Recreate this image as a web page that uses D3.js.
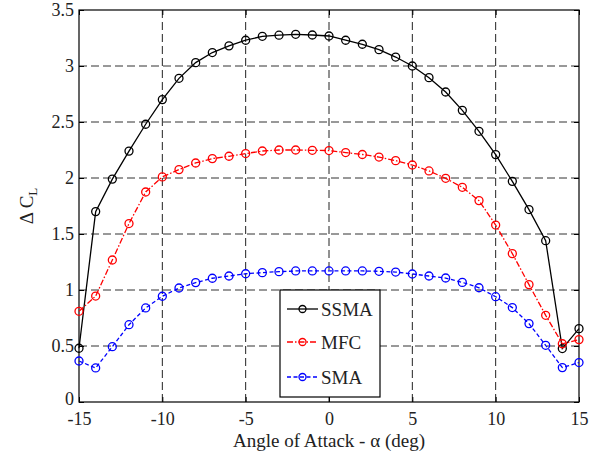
<!DOCTYPE html>
<html>
<head>
<meta charset="utf-8">
<script src="https://cdn.jsdelivr.net/npm/d3@7"></script>
<style>
body{margin:0;background:#fff;}
text{font-family:"Liberation Serif","DejaVu Serif",serif;}
</style>
</head>
<body>
<svg id="chart" width="594" height="451"></svg>
<script>
// angle of attack (deg)
var alpha = d3.range(-15, 16)
var xTicks = [-15, -10, -5, 0, 5, 10, 15]
var yTicks = [0, 0.5, 1, 1.5, 2, 2.5, 3, 3.5]
var yTickLabels = ['0', '0.5', '1', '1.5', '2', '2.5', '3', '3.5']

var ssma = [0.48, 1.70, 1.99, 2.24, 2.48, 2.70, 2.89, 3.03, 3.12, 3.18, 3.23, 3.265, 3.275, 3.283, 3.277, 3.268,
            3.23, 3.194, 3.146, 3.08, 3.00, 2.896, 2.768, 2.604, 2.417, 2.209, 1.97, 1.718, 1.44, 0.477, 0.655]
var mfc = [0.81, 0.946, 1.268, 1.593, 1.875, 2.01, 2.075, 2.134, 2.173, 2.194, 2.218, 2.241, 2.25, 2.25, 2.247, 2.245,
           2.227, 2.21, 2.187, 2.155, 2.116, 2.063, 1.997, 1.917, 1.798, 1.58, 1.325, 1.048, 0.774, 0.52, 0.557]
var sma = [0.366, 0.304, 0.494, 0.69, 0.84, 0.944, 1.018, 1.066, 1.105, 1.125, 1.145, 1.155, 1.164, 1.17, 1.17, 1.17,
           1.17, 1.17, 1.167, 1.16, 1.143, 1.125, 1.107, 1.068, 1.02, 0.94, 0.843, 0.70, 0.506, 0.307, 0.352]

var seriesNames = ['SSMA', 'MFC', 'SMA']
var seriesColors = ['#000000', '#ff0000', '#0000ff']
var seriesDash = [null, '6,2,1.5,2', '4,2.5']

var svg = d3.select('#chart')
var margin = {left: 79, right: 15, top: 10, bottom: 49}
var w = 594 - margin.left - margin.right
var h = 451 - margin.top - margin.bottom

var x = d3.scaleLinear().domain([-15, 15]).range([margin.left, margin.left + w])
var y = d3.scaleLinear().domain([0, 3.5]).range([margin.top + h, margin.top])

var fontSize = 18
var g = svg.append('g')

// grid
g.selectAll('.vgrid')
    .data(xTicks.slice(1, -1))
    .join('line')
    .attr('x1', d => x(d)).attr('x2', d => x(d))
    .attr('y1', y(0)).attr('y2', y(3.5))
    .attr('stroke', '#222').attr('stroke-width', 1)
    .attr('stroke-dasharray', '8,4')
g.selectAll('.hgrid')
    .data(yTicks.slice(1, -1))
    .join('line')
    .attr('x1', x(-15)).attr('x2', x(15))
    .attr('y1', d => y(d)).attr('y2', d => y(d))
    .attr('stroke', '#333').attr('stroke-width', 1)
    .attr('stroke-dasharray', '8,4')

// axes, ticks inward on all four sides
var tickLen = 5
var axB = d3.axisBottom(x).tickValues(xTicks).tickSize(-tickLen).tickPadding(10.5).tickFormat(d => String(d))
var axT = d3.axisTop(x).tickValues(xTicks).tickSize(-tickLen).tickFormat('')
var axL = d3.axisLeft(y).tickValues(yTicks).tickSize(-tickLen).tickPadding(5).tickFormat((d, i) => yTickLabels[i])
var axR = d3.axisRight(y).tickValues(yTicks).tickSize(-tickLen).tickFormat('')

function styleAxis(sel){
    sel.select('.domain').remove()
    sel.selectAll('line').attr('stroke', '#000')
    sel.selectAll('text').attr('font-size', fontSize).attr('fill', '#222')
        .attr('font-family', '"Liberation Serif","DejaVu Serif",serif')
}
g.append('g').attr('transform', `translate(0,${y(0)})`).call(axB).call(styleAxis)
g.append('g').attr('transform', `translate(0,${y(3.5)})`).call(axT).call(styleAxis)
var yAxisG = g.append('g').attr('transform', `translate(${x(-15)},0)`).call(axL).call(styleAxis)
// lift the "0" label a touch so it clears the "-15" below it
yAxisG.selectAll('.tick text').filter(d => d === 0).attr('dy', '0.12em')
g.append('g').attr('transform', `translate(${x(15)},0)`).call(axR).call(styleAxis)

g.append('rect')
    .attr('x', x(-15)).attr('y', y(3.5))
    .attr('width', x(15) - x(-15)).attr('height', y(0) - y(3.5))
    .attr('fill', 'none').attr('stroke', '#000').attr('stroke-width', 1.2)

// series
var allSeries = [ssma, mfc, sma]
var line = d3.line().x((d, i) => x(alpha[i])).y(d => y(d))

allSeries.forEach((vals, k) => {
    g.append('path')
        .datum(vals)
        .attr('d', line)
        .attr('fill', 'none')
        .attr('stroke', seriesColors[k])
        .attr('stroke-width', 1.3)
        .attr('stroke-dasharray', seriesDash[k])
    g.selectAll('.pt' + k)
        .data(vals)
        .join('circle')
        .attr('cx', (d, i) => x(alpha[i]))
        .attr('cy', d => y(d))
        .attr('r', 4)
        .attr('fill', 'none')
        .attr('stroke', seriesColors[k])
        .attr('stroke-width', 1.3)
})

// legend
var leg = g.append('g')
leg.append('rect')
    .attr('x', 280).attr('y', 290).attr('width', 100).attr('height', 107)
    .attr('fill', '#fff').attr('stroke', '#000').attr('stroke-width', 1.2)
var legY = [309, 342, 377]
seriesNames.forEach((name, k) => {
    leg.append('line')
        .attr('x1', 287).attr('x2', 318)
        .attr('y1', legY[k]).attr('y2', legY[k])
        .attr('stroke', seriesColors[k]).attr('stroke-width', 1.3)
        .attr('stroke-dasharray', seriesDash[k])
    leg.append('circle')
        .attr('cx', 302.5).attr('cy', legY[k]).attr('r', 3.5)
        .attr('fill', 'none').attr('stroke', seriesColors[k]).attr('stroke-width', 1.3)
    leg.append('text')
        .attr('x', 321).attr('y', legY[k] + 6.5)
        .attr('font-size', fontSize + 1).attr('fill', '#222')
        .text(name)
})

// axis labels
svg.append('text')
    .attr('x', x(0)).attr('y', 447)
    .attr('text-anchor', 'middle')
    .attr('font-size', fontSize + 1).attr('fill', '#222')
    .text('Angle of Attack - α (deg)')

var yl = svg.append('text')
    .attr('transform', `translate(33,${(y(0) + y(3.5)) / 2}) rotate(-90)`)
    .attr('text-anchor', 'middle')
    .attr('font-size', fontSize + 1).attr('fill', '#222')
yl.append('tspan').text('Δ C')
yl.append('tspan').attr('font-size', 13).attr('dy', 4).text('L')
</script>
</body>
</html>
